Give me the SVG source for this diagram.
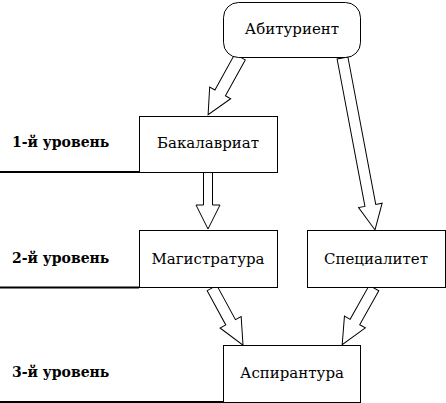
<svg xmlns="http://www.w3.org/2000/svg" width="446" height="403" viewBox="0 0 446 403">
<style>
.box{fill:#fff;stroke:#000;stroke-width:1}
.t{font-size:15px;fill:#000;text-anchor:middle}
.lbl{font-size:14px;font-weight:bold;fill:#000}
.arr{fill:#fff;stroke:#000;stroke-width:1;stroke-linejoin:miter}
.rule{stroke:#000;stroke-width:2}
</style>
<rect width="446" height="403" fill="#fff"/>
<g font-family="DejaVu Serif, serif">
<g id="levels">
<text class="lbl" x="12" y="147">1-й уровень</text>
<line class="rule" x1="0" y1="172" x2="139" y2="172"/>
<text class="lbl" x="12" y="263">2-й уровень</text>
<line class="rule" x1="0" y1="287.5" x2="139" y2="287.5"/>
<text class="lbl" x="12" y="377">3-й уровень</text>
<line class="rule" x1="0" y1="402" x2="223" y2="402"/>
</g>
<g id="connectors">
<path class="arr" transform="translate(240,57) rotate(118.9)" d="M0,-6 L41,-6 L41,-12 L66,0 L41,12 L41,6 L0,6 Z"/>
<path class="arr" transform="translate(342.5,58) rotate(79.3)" d="M0,-5.5 L150,-5.5 L150,-12 L175,0 L150,12 L150,5.5 L0,5.5 Z"/>
<path class="arr" d="M203.5,172 L212.5,172 L212.5,205 L220,205 L208,229 L196,205 L203.5,205 Z"/>
<path class="arr" transform="translate(212,288) rotate(61.5)" d="M0,-5.5 L39,-5.5 L39,-12 L65,0 L39,12 L39,5.5 L0,5.5 Z"/>
<path class="arr" transform="translate(374,288) rotate(119.3)" d="M0,-5.5 L39,-5.5 L39,-12 L65,0 L39,12 L39,5.5 L0,5.5 Z"/>
</g>
<g id="abiturient">
<rect class="box" x="223.5" y="2.5" width="137" height="55" rx="15" ry="15"/>
<text class="t" x="292" y="34">Абитуриент</text>
</g>
<g id="bakalavriat">
<rect class="box" x="139.5" y="116.5" width="138" height="56"/>
<text class="t" x="208" y="148">Бакалавриат</text>
</g>
<g id="magistratura">
<rect class="box" x="139.5" y="230.5" width="138" height="57"/>
<text class="t" x="208" y="264">Магистратура</text>
</g>
<g id="specialitet">
<rect class="box" x="307.5" y="230.5" width="138" height="57"/>
<text class="t" x="376" y="264">Специалитет</text>
</g>
<g id="aspirantura">
<rect class="box" x="223.5" y="345.5" width="137" height="57"/>
<text class="t" x="292" y="378">Аспирантура</text>
</g>
</g>
</svg>
